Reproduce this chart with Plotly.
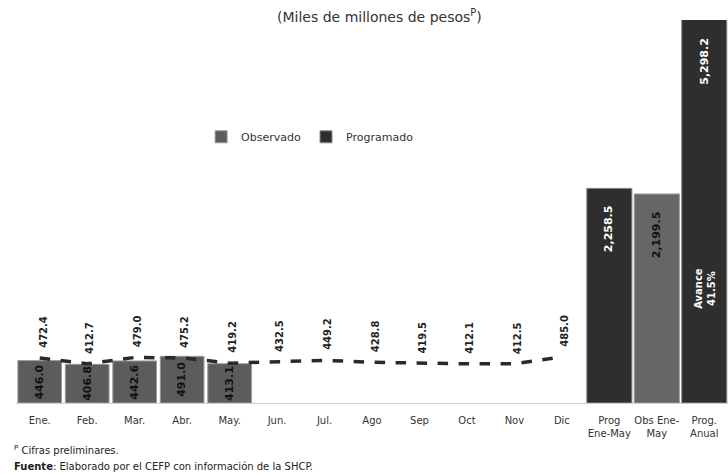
import plotly.graph_objects as go

months = ["Ene.", "Feb.", "Mar.", "Abr.", "May.", "Jun.", "Jul.", "Ago", "Sep", "Oct", "Nov", "Dic"]
summary_cats = ["Prog<br>Ene-May", "Obs Ene-<br>May", "Prog.<br>Anual"]
categories = months + summary_cats

observado_mensual = [446.0, 406.8, 442.6, 491.0, 413.1]
programado_mensual = [472.4, 412.7, 479.0, 475.2, 419.2, 432.5, 449.2, 428.8, 419.5, 412.1, 412.5, 485.0]
prog_ene_may = 2258.5
obs_ene_may = 2199.5
prog_anual = 5298.2
avance_pct = 41.5

FONT = "DejaVu Sans"
Y_MAX = 4030

fig = go.Figure()

# Observed bars (monthly + Jan-May total)
obs_x = months[:5] + [summary_cats[1]]
obs_y = observado_mensual + [obs_ene_may]
fig.add_trace(go.Bar(
    x=obs_x, y=obs_y, name="Observado",
    marker=dict(color=["#5c5c5c"] * 5 + ["#666666"], line=dict(color="#9a9a9a", width=1)),
    width=[0.92] * 5 + [0.95],
))

# Programmed bars
prog_x = [summary_cats[0], summary_cats[2]]
prog_y = [prog_ene_may, prog_anual]
fig.add_trace(go.Bar(
    x=prog_x, y=prog_y, name="Programado",
    marker=dict(color="#2e2e2e", line=dict(color="#8a8a8a", width=1)),
    width=[0.95, 0.95],
))

# Programmed monthly dashed line
fig.add_trace(go.Scatter(
    x=months, y=programado_mensual, mode="lines", showlegend=False,
    line=dict(color="#2a2a2a", width=3.5, dash="dash"),
))

ann = []
# Monthly observed labels (inside bars, centered)
for m, v in zip(months[:5], observado_mensual):
    ann.append(dict(x=m, y=v / 2, text=f"<b>{v:,.1f}</b>", textangle=-90, showarrow=False,
                    font=dict(family=FONT, size=11, color="#111111")))
# Programmed line labels
for m, v in zip(months, programado_mensual):
    ann.append(dict(x=m, y=v, text=f"<b>{v:,.1f}</b>", textangle=-90, showarrow=False,
                    yanchor="bottom", yshift=8, xshift=3,
                    font=dict(family=FONT, size=10, color="#222222")))
# Summary bar labels
ann.append(dict(x=summary_cats[0], y=prog_ene_may, text=f"<b>{prog_ene_may:,.1f}</b>", textangle=-90,
                showarrow=False, yanchor="top", yshift=-15,
                font=dict(family=FONT, size=11, color="white")))
ann.append(dict(x=summary_cats[1], y=obs_ene_may, text=f"<b>{obs_ene_may:,.1f}</b>", textangle=-90,
                showarrow=False, yanchor="top", yshift=-15,
                font=dict(family=FONT, size=11, color="#111111")))
ann.append(dict(x=summary_cats[2], y=1, yref="y domain", text=f"<b>{prog_anual:,.1f}</b>", textangle=-90,
                showarrow=False, yanchor="top", yshift=-16,
                font=dict(family=FONT, size=11, color="white")))
ann.append(dict(x=summary_cats[2], y=0.24, yref="y domain", text=f"<b>Avance<br>{avance_pct:.1f}%</b>",
                textangle=-90, showarrow=False,
                font=dict(family=FONT, size=10, color="white")))

# Title and footnotes
ann.append(dict(x=0.511, y=1.0, xref="paper", yref="paper", yanchor="middle", yshift=4,
                text="(Miles de millones de pesos<sup>P</sup>)", showarrow=False,
                font=dict(family=FONT, size=14, color="#333333")))
ann.append(dict(x=-0.006, y=-0.123, xref="paper", yref="paper", xanchor="left", yanchor="middle",
                text="<sup>P</sup> Cifras preliminares.", showarrow=False,
                font=dict(family=FONT, size=10, color="#222222")))
ann.append(dict(x=-0.006, y=-0.165, xref="paper", yref="paper", xanchor="left", yanchor="middle",
                text="<b>Fuente</b>: Elaborado por el CEFP con información de la SHCP.", showarrow=False,
                font=dict(family=FONT, size=10, color="#222222")))

fig.update_layout(
    width=728, height=476,
    margin=dict(l=16, r=0, t=20, b=73),
    paper_bgcolor="white", plot_bgcolor="white",
    barmode="overlay",
    showlegend=True,
    legend=dict(orientation="h", x=0.26, y=0.695, xanchor="left", yanchor="middle",
                font=dict(family=FONT, size=11, color="#333333"), bgcolor="rgba(0,0,0,0)",
                itemwidth=30),
    annotations=ann,
    xaxis=dict(categoryorder="array", categoryarray=categories, showgrid=False,
               showline=True, linecolor="#d0d0d0", linewidth=1, ticks="",
               ticklabelstandoff=8, automargin=False,
               tickfont=dict(family=FONT, size=10, color="#333333")),
    yaxis=dict(range=[0, Y_MAX], visible=False, showgrid=False),
    font=dict(family=FONT),
)

fig.write_html("out.html", config={"displayModeBar": False})

# Remove default page margin so the figure fills the window exactly
with open("out.html", "r", encoding="utf-8") as f:
    html = f.read()
html = html.replace("<body>", '<body style="margin:0;padding:0;overflow:hidden">', 1)
with open("out.html", "w", encoding="utf-8") as f:
    f.write(html)
